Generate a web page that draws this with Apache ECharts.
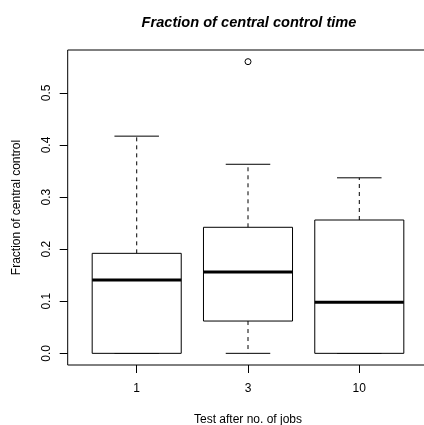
<!DOCTYPE html>
<html>
<head>
<meta charset="utf-8">
<script src="https://cdn.jsdelivr.net/npm/echarts@6/dist/echarts.min.js"></script>
<style>
  html, body { margin: 0; padding: 0; background: #fff; }
  #chart { width: 424px; height: 425px; }
</style>
</head>
<body>
<div id="chart"></div>
<script>
// box statistics
var categories = ['1', '3', '10'];
var whisker_low = [0, 0, 0];
var q1_list = [0, 0.062, 0];
var median_list = [0.141, 0.156, 0.098];
var q3_list = [0.192, 0.242, 0.256];
var whisker_high = [0.417, 0.363, 0.337];
var outliers = [[2, 0.560]];  // [box position, value]
var y_ticks = [0, 0.1, 0.2, 0.3, 0.4, 0.5];
var x_ticks = [1, 2, 3];

var font = "'Liberation Sans', Arial, sans-serif";
var box_half = 0.4;   // half box width (axis units)
var cap_half = 0.2;   // half whisker cap width

var box_data = [];
var i;
for (i = 0; i < categories.length; i++) {
  box_data.push([i + 1, whisker_low[i], q1_list[i], median_list[i], q3_list[i], whisker_high[i]]);
}

function render_box(params, api) {
  var x = api.value(0);
  var lowP = api.coord([x, api.value(1)]);
  var q1P = api.coord([x, api.value(2)]);
  var medP = api.coord([x, api.value(3)]);
  var q3P = api.coord([x, api.value(4)]);
  var highP = api.coord([x, api.value(5)]);
  var bl = api.coord([x - box_half, 0])[0];
  var br = api.coord([x + box_half, 0])[0];
  var cl = api.coord([x - cap_half, 0])[0];
  var cr = api.coord([x + cap_half, 0])[0];
  var cx = lowP[0];
  var dashed = { stroke: '#000', lineWidth: 1, lineDash: [4, 4], fill: null };
  var solid = { stroke: '#000', lineWidth: 1, fill: null };
  return {
    type: 'group',
    children: [
      { type: 'line', shape: { x1: cx, y1: q3P[1], x2: cx, y2: highP[1] }, style: dashed },
      { type: 'line', shape: { x1: cx, y1: q1P[1], x2: cx, y2: lowP[1] }, style: dashed },
      { type: 'line', shape: { x1: cl, y1: highP[1], x2: cr, y2: highP[1] }, style: solid },
      { type: 'line', shape: { x1: cl, y1: lowP[1], x2: cr, y2: lowP[1] }, style: solid },
      { type: 'rect', shape: { x: bl, y: q3P[1], width: br - bl, height: q1P[1] - q3P[1] },
        style: { stroke: '#000', lineWidth: 1, fill: '#fff' } },
      { type: 'line', shape: { x1: bl, y1: medP[1], x2: br, y2: medP[1] },
        style: { stroke: '#000', lineWidth: 3, fill: null } }
    ]
  };
}

var chart = echarts.init(document.getElementById('chart'));
chart.setOption({
  animation: false,
  backgroundColor: '#fff',
  title: {
    text: 'Fraction of central control time',
    left: 244,
    textAlign: 'center',
    top: 10,
    textStyle: { fontFamily: font, fontSize: 14.6, fontWeight: 'bold', fontStyle: 'italic', color: '#000' }
  },
  grid: {
    left: 67.7, top: 50, width: 360.6, height: 315,
    show: true, borderColor: '#000', borderWidth: 1, backgroundColor: 'transparent',
    outerBoundsMode: 'none', containLabel: false
  },
  xAxis: {
    type: 'value',
    min: 0.38, max: 3.62,
    name: 'Test after no. of jobs',
    nameLocation: 'middle',
    nameGap: 49,
    nameMoveOverlap: false,
    nameTextStyle: { fontFamily: font, fontSize: 12, color: '#000' },
    axisLine: { show: false, onZero: false },
    splitLine: { show: false },
    axisTick: { show: true, length: 8, customValues: x_ticks, lineStyle: { color: '#000' } },
    axisLabel: {
      customValues: x_ticks,
      margin: 18,
      fontFamily: font, fontSize: 12, color: '#000',
      formatter: function (v) { return categories[Math.round(v) - 1]; }
    }
  },
  yAxis: {
    type: 'value',
    min: -0.0224, max: 0.5824,
    name: 'Fraction of central control',
    nameLocation: 'middle',
    nameGap: 45,
    nameMoveOverlap: false,
    nameTextStyle: { fontFamily: font, fontSize: 12, color: '#000' },
    axisLine: { show: false, onZero: false },
    splitLine: { show: false },
    axisTick: { show: true, length: 8, customValues: y_ticks, lineStyle: { color: '#000' } },
    axisLabel: {
      customValues: y_ticks,
      rotate: 90,
      margin: 15,
      fontFamily: font, fontSize: 12, color: '#000',
      formatter: function (v) { return v.toFixed(1); }
    }
  },
  series: [{
    type: 'custom',
    renderItem: render_box,
    data: box_data,
    encode: { x: 0, y: [1, 2, 3, 4, 5] }
  }, {
    type: 'scatter',
    symbol: 'circle',
    symbolSize: 6,
    itemStyle: { color: '#fff', borderColor: '#000', borderWidth: 1, opacity: 1 },
    data: outliers
  }]
});
</script>
</body>
</html>
